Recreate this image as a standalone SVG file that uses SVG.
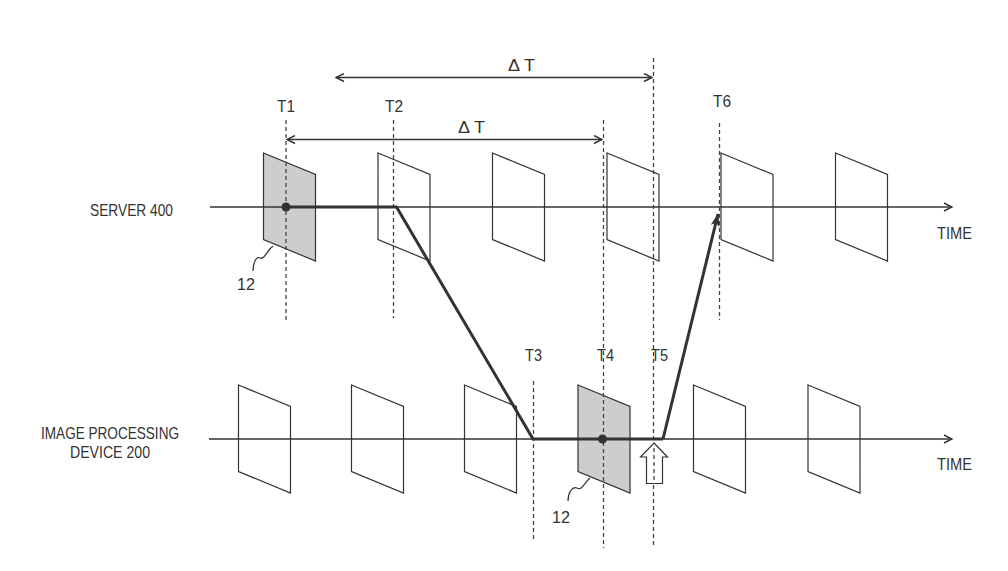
<svg xmlns="http://www.w3.org/2000/svg" xmlns:xlink="http://www.w3.org/1999/xlink" width="1008" height="571" viewBox="0 0 1008 571">
<style>
.frame{fill:#fff;stroke:#333;stroke-width:1.2}
.frame.hl{fill:#cdcdcd}
.axis{fill:none;stroke:#333;stroke-width:1.4}
.dash{fill:none;stroke:#444;stroke-width:1.3;stroke-dasharray:4 3}
.thick{fill:none;stroke:#333;stroke-width:3;stroke-linejoin:miter}
.dim{fill:none;stroke:#333;stroke-width:1.4}
.lbl{font-family:"Liberation Sans",Arial,sans-serif;font-size:16.5px;fill:#333}
.lead{fill:none;stroke:#333;stroke-width:1.2}
</style>
<defs>
<path id="frame" d="M0,-54 L52,-32.5 L52,54 L0,32.5 Z"/>
<marker id="open" viewBox="0 0 10 10" refX="9" refY="5" markerWidth="10" markerHeight="10" markerUnits="userSpaceOnUse" orient="auto-start-reverse">
<path d="M1,1 L9,5 L1,9" fill="none" stroke="#333" stroke-width="1.4"/>
</marker>
<marker id="solid" viewBox="0 0 12 8" refX="11" refY="4" markerWidth="14" markerHeight="9" markerUnits="userSpaceOnUse" orient="auto">
<path d="M0,0 L12,4 L0,8 L3,4 Z" fill="#333"/>
</marker>
</defs>

<g id="server-frames">
<use xlink:href="#frame" href="#frame" class="frame hl" x="263.5" y="207"/>
<use xlink:href="#frame" href="#frame" class="frame" x="378" y="207"/>
<use xlink:href="#frame" href="#frame" class="frame" x="492.5" y="207"/>
<use xlink:href="#frame" href="#frame" class="frame" x="607" y="207"/>
<use xlink:href="#frame" href="#frame" class="frame" x="721" y="207"/>
<use xlink:href="#frame" href="#frame" class="frame" x="835.5" y="207"/>
</g>
<g id="device-frames">
<use xlink:href="#frame" href="#frame" class="frame" x="238.5" y="439"/>
<use xlink:href="#frame" href="#frame" class="frame" x="351.5" y="439"/>
<use xlink:href="#frame" href="#frame" class="frame" x="464.5" y="439"/>
<use xlink:href="#frame" href="#frame" class="frame hl" x="578" y="439"/>
<use xlink:href="#frame" href="#frame" class="frame" x="693.5" y="439"/>
<use xlink:href="#frame" href="#frame" class="frame" x="808" y="439"/>
</g>

<g id="axes">
<line class="axis" x1="210" y1="207" x2="952" y2="207" marker-end="url(#open)"/>
<line class="axis" x1="209" y1="439" x2="952" y2="439" marker-end="url(#open)"/>
</g>

<g id="time-markers">
<line class="dash" x1="286" y1="120" x2="286" y2="320"/>
<line class="dash" x1="393.5" y1="120" x2="393.5" y2="318"/>
<line class="dash" x1="603.5" y1="120" x2="603.5" y2="548"/>
<line class="dash" x1="653.5" y1="58" x2="653.5" y2="548"/>
<line class="dash" x1="719.5" y1="123" x2="719.5" y2="320"/>
<line class="dash" x1="533.5" y1="381" x2="533.5" y2="540"/>
</g>

<g id="delta-t">
<line class="dim" x1="336" y1="77.5" x2="652" y2="77.5" marker-start="url(#open)" marker-end="url(#open)"/>
<line class="dim" x1="287" y1="139.5" x2="602" y2="139.5" marker-start="url(#open)" marker-end="url(#open)"/>
<text class="lbl" x="508" y="71" textLength="27" lengthAdjust="spacingAndGlyphs">Δ T</text>
<text class="lbl" x="458" y="133" textLength="27" lengthAdjust="spacingAndGlyphs">Δ T</text>
</g>

<g id="connectors">
<polyline class="thick" points="286,207 396.5,207 533,439 663,439"/>
<line class="thick" x1="663" y1="439" x2="718" y2="214" marker-end="url(#solid)"/>
<circle cx="286" cy="207" r="4.5" fill="#333"/>
<circle cx="602.5" cy="439" r="4.5" fill="#333"/>
</g>

<g id="trigger-arrow">
<path d="M654,443 L667.5,457 L662.5,457 L662.5,483.5 L646.5,483.5 L646.5,457 L640.5,457 Z" fill="#fff" stroke="#333" stroke-width="1.2"/>
<line class="dash" x1="654" y1="448" x2="654" y2="482"/>
</g>

<g id="leaders">
<path class="lead" d="M253,271 C253,263 256,256 260,258 C265,260 266,251 273,246"/>
<path class="lead" d="M568,501 C568,493 572,486 577,488 C582,491 584,483 590,478"/>
</g>

<g id="labels">
<text class="lbl" x="90" y="216" textLength="83" lengthAdjust="spacingAndGlyphs">SERVER 400</text>
<text class="lbl" x="41" y="439" textLength="138" lengthAdjust="spacingAndGlyphs">IMAGE PROCESSING</text>
<text class="lbl" x="70" y="458" textLength="80" lengthAdjust="spacingAndGlyphs">DEVICE 200</text>
<text class="lbl" x="937" y="239" textLength="35" lengthAdjust="spacingAndGlyphs">TIME</text>
<text class="lbl" x="937" y="470" textLength="35" lengthAdjust="spacingAndGlyphs">TIME</text>
<text class="lbl" x="277" y="111.5" textLength="18" lengthAdjust="spacingAndGlyphs">T1</text>
<text class="lbl" x="385" y="111.5" textLength="18" lengthAdjust="spacingAndGlyphs">T2</text>
<text class="lbl" x="713" y="107" textLength="18" lengthAdjust="spacingAndGlyphs">T6</text>
<text class="lbl" x="525" y="360.5" textLength="17" lengthAdjust="spacingAndGlyphs">T3</text>
<text class="lbl" x="597" y="360.5" textLength="17" lengthAdjust="spacingAndGlyphs">T4</text>
<text class="lbl" x="651" y="360.5" textLength="17" lengthAdjust="spacingAndGlyphs">T5</text>
<text class="lbl" x="237" y="289.5" textLength="18" lengthAdjust="spacingAndGlyphs">12</text>
<text class="lbl" x="552" y="522.5" textLength="18" lengthAdjust="spacingAndGlyphs">12</text>
</g>
</svg>
